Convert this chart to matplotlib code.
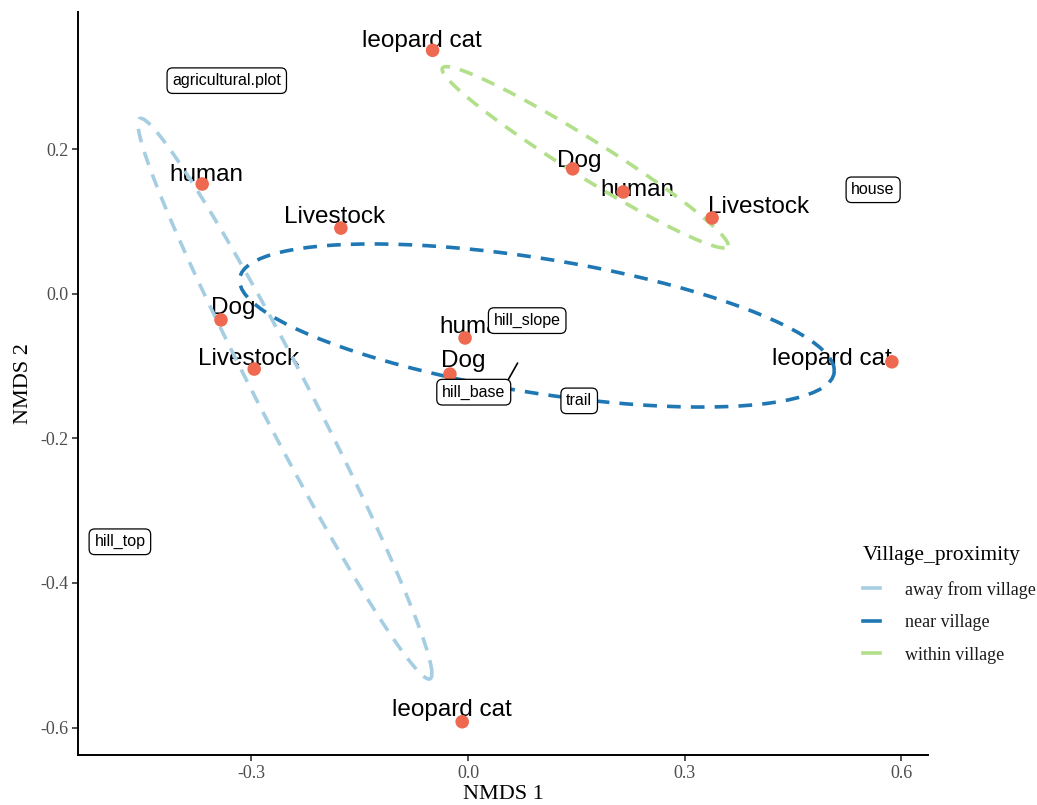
import numpy as np
import matplotlib
matplotlib.use("Agg")
import matplotlib.pyplot as plt
from matplotlib.lines import Line2D

# ---- species scores on the first two NMDS axes ----
species = ["leopard cat", "human", "Livestock", "Dog", "Livestock", "human",
           "Dog", "Dog", "human", "Livestock", "leopard cat", "leopard cat"]
nmds1 = [-0.049, -0.368, -0.176, -0.342, -0.296, -0.004,
         -0.025, 0.145, 0.215, 0.338, 0.587, -0.008]
nmds2 = [0.337, 0.152, 0.091, -0.036, -0.104, -0.061,
         -0.111, 0.173, 0.141, 0.105, -0.094, -0.592]
proximity = ["within village", "away from village", "near village",
             "away from village", "away from village", "near village",
             "near village", "within village", "within village",
             "within village", "near village", "away from village"]

# ---- site labels ----
sites = ["agricultural.plot", "house", "hill_slope", "hill_base", "trail", "hill_top"]
site_x = [-0.334, 0.561, 0.082, 0.008, 0.154, -0.482]
site_y = [0.295, 0.144, -0.037, -0.136, -0.148, -0.343]
# anchor of the repelled hill_base label
hill_base_anchor = (0.0725, -0.089)

groups = ["away from village", "near village", "within village"]
group_colors = {"away from village": "#A6CEE3",
                "near village": "#1F78B4",
                "within village": "#B2DF8A"}

# text nudges (pixels) for the species names
text_nudge = [(-11, 3), (4, 3), (-6, 5), (12, 6), (-6, 4), (11, 5),
              (13, 7), (7, 2), (14, -4), (46, 5), (-60, -3), (-10, 6)]

SERIF = "Liberation Serif"
SANS = "Liberation Sans"


def cov_ellipse(x, y, conf=0.95, npoints=100):
    """Standard-error ellipse around the group centroid."""
    pts = np.column_stack([x, y])
    center = pts.mean(axis=0)
    cov = np.cov(pts, rowvar=False) / len(pts)
    scale = np.sqrt(-2.0 * np.log(1.0 - conf))
    theta = np.arange(npoints + 1) * 2 * np.pi / npoints
    circle = np.column_stack([np.cos(theta), np.sin(theta)])
    upper = np.linalg.cholesky(cov).T
    return center + scale * circle @ upper


fig = plt.figure(figsize=(10.37, 8.05), dpi=100)
ax = fig.add_axes([78 / 1037, 1 - 755 / 805, (928 - 78) / 1037, (755 - 12) / 805])
ax.set_xlim(-0.540, 0.637)
ax.set_ylim(-0.638, 0.390)

x_arr = np.array(nmds1)
y_arr = np.array(nmds2)
prox_arr = np.array(proximity)

# species names
for name, x, y, (dx, dy) in zip(species, nmds1, nmds2, text_nudge):
    ax.annotate(name, (x, y), xytext=(dx, dy), textcoords="offset pixels",
                ha="center", va="baseline", fontsize=17.5, family=SANS,
                color="black", zorder=2)

# group ellipses
for g in groups:
    m = prox_arr == g
    ell = cov_ellipse(x_arr[m], y_arr[m])
    ax.plot(ell[:, 0], ell[:, 1], color=group_colors[g], lw=2.6,
            dashes=(3.8, 2.8), solid_capstyle="butt", dash_capstyle="butt",
            zorder=3)

# species points
ax.scatter(nmds1, nmds2, s=95, color="#EF6850", edgecolors="none", zorder=4)

# site labels
box = dict(boxstyle="round,pad=0.33,rounding_size=0.35", fc="white",
           ec="black", lw=0.9)
for name, x, y in zip(sites, site_x, site_y):
    if name == "hill_base":
        ax.annotate(name, hill_base_anchor, xytext=(x, y), textcoords="data",
                    ha="center", va="center", fontsize=11.5, family=SANS,
                    bbox=box, zorder=5,
                    arrowprops=dict(arrowstyle="-", color="black", lw=1.2,
                                    relpos=(1.0, 1.0), shrinkA=0, shrinkB=4))
    else:
        ax.text(x, y, name, ha="center", va="center", fontsize=11.5,
                family=SANS, bbox=box, zorder=5)

# axes styling (classic theme)
for side in ["top", "right"]:
    ax.spines[side].set_visible(False)
for side in ["left", "bottom"]:
    ax.spines[side].set_linewidth(1.4)
    ax.spines[side].set_color("black")
ax.set_xticks([-0.3, 0.0, 0.3, 0.6])
ax.set_xticklabels(["-0.3", "0.0", "0.3", "0.6"])
ax.set_yticks([-0.6, -0.4, -0.2, 0.0, 0.2])
ax.set_yticklabels(["-0.6", "-0.4", "-0.2", "0.0", "0.2"])
ax.tick_params(axis="both", length=4, width=1.2, color="#333333",
               labelcolor="#4D4D4D", labelsize=13, pad=3)
for lab in ax.get_xticklabels() + ax.get_yticklabels():
    lab.set_family(SERIF)
ax.set_xlabel("NMDS 1", family=SERIF, fontsize=16, labelpad=2)
ax.set_ylabel("NMDS 2", family=SERIF, fontsize=16, labelpad=5)

# legend
handles = [Line2D([0], [0], color=group_colors[g], lw=2.6) for g in groups]
leg = ax.legend(handles, groups, title="Village_proximity",
                loc="upper left", bbox_to_anchor=(848 / 1037, 1 - 531 / 805),
                bbox_transform=fig.transFigure, frameon=False,
                prop={"family": SERIF, "size": 13},
                title_fontproperties={"family": SERIF, "size": 15.5},
                handlelength=0.95, handletextpad=1.35, labelspacing=0.86,
                borderpad=0.34, alignment="left")
for t in leg.get_texts():
    t.set_color("#1A1A1A")

fig.savefig("out.png", dpi=100)
